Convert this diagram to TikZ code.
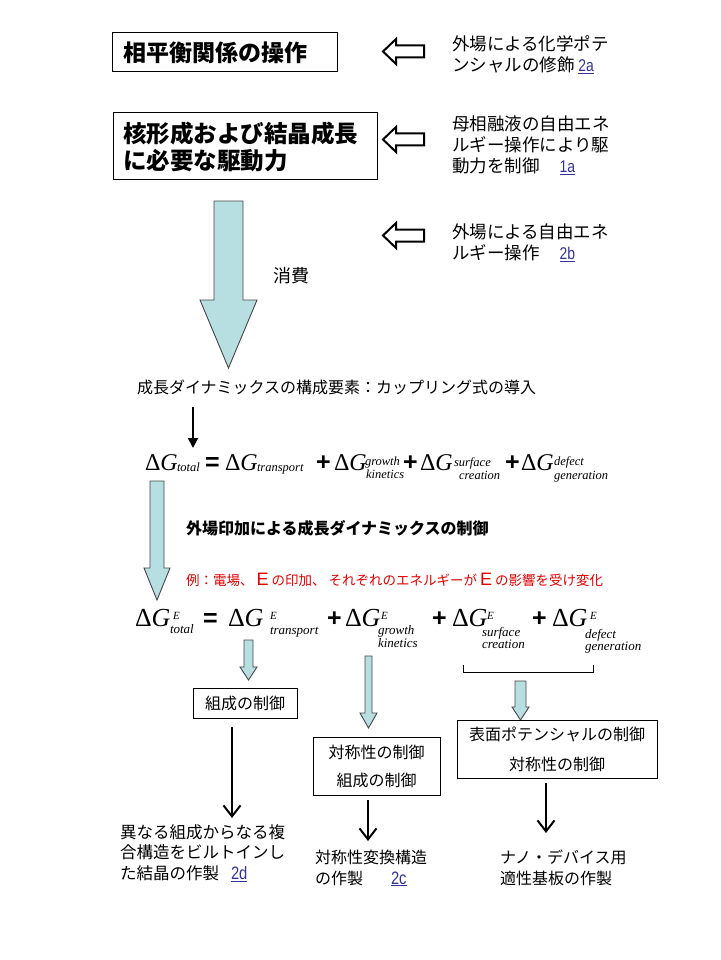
\documentclass[tikz,border=0pt]{standalone}
\usepackage{fontspec}
\usepackage{graphicx}
\setmainfont{Noto Sans CJK JP}
\newfontfamily\tms{Liberation Serif}
\newfontfamily\ari{Liberation Sans}
\usetikzlibrary{arrows.meta}
\definecolor{lblue}{RGB}{183,222,225}
\definecolor{aedge}{RGB}{70,70,70}
\definecolor{lnkcol}{RGB}{51,51,153}
\definecolor{redtxt}{RGB}{225,0,0}
\newcommand{\fs}[1]{\fontsize{#1}{#1}\selectfont}
\newcommand{\reflink}[2][17]{{\ari\fontsize{#1}{#1}\selectfont\color{lnkcol}\underline{\scalebox{0.82}[1]{#2}}}}
\newcommand{\bigE}{{\ari\fs{18}E}}
\newcommand{\dG}{Δ\textit{G}}
\begin{document}
\begin{tikzpicture}[x=1pt,y=-1pt,
  every node/.style={inner sep=0pt,outer sep=0pt},
  box/.style={draw,line width=1pt,align=left},
  cbox/.style={draw,line width=1pt,align=center,font=\fs{16}},
  rt/.style={anchor=base west,align=left,font=\fontsize{17.5}{21}\selectfont},
  lt/.style={anchor=base west,align=left,font=\fontsize{16.5}{20.5}\selectfont},
  dg/.style={anchor=base west,font=\tms\fs{24}},
  dgb/.style={anchor=base west,font=\tms\fs{26}},
  op/.style={anchor=base west,font=\ari\bfseries\fs{25}},
  sb/.style={anchor=base west,font=\tms\itshape\fs{12.5}},
  sbb/.style={anchor=base west,font=\tms\itshape\fs{13}},
  sup/.style={anchor=base west,font=\tms\itshape\fs{11}},
  hollow/.style={draw=black,fill=white,line width=2pt,line join=miter},
  blockarrow/.style={draw=aedge,fill=lblue,line width=0.9pt},
  blk/.style={line width=2pt,-{Straight Barb[length=11pt,width=17pt]}},
  blkt/.style={line width=2pt,-{Triangle[length=10pt,width=10pt]}}
]
\useasboundingbox (0,0) rectangle (720,960);
\fill[white] (0,0) rectangle (720,960);

% ---- top boxes ----
\node[box,font=\bfseries\fs{23},text width=203pt,inner xsep=11pt,minimum height=39pt,anchor=north west] (b1) at (112,33) {相平衡関係の操作};
\node[box,font=\bfseries\fontsize{23.5}{27}\selectfont,text width=244pt,inner xsep=10pt,minimum height=67pt,anchor=north west] (b2) at (113,113) {核形成および結晶成長\\に必要な駆動力};

% ---- hollow left arrows ----
\foreach \c in {51.5,139.5,235.5}{
  \draw[hollow] (383,\c) -- (396,\c-12.5) -- (396,\c-6) -- (424,\c-6) -- (424,\c+6) -- (396,\c+6) -- (396,\c+12.5) -- cycle;
}

% ---- right side texts (base = last line) ----
\node[rt] (t1) at (452,71.6) {外場による化学ポテ\\ンシャルの修飾 \reflink{2a}};
\node[rt] (t2) at (452,172.6) {母相融液の自由エネ\\ルギー操作により駆\\動力を制御\hspace{20pt}\reflink{1a}};
\node[rt] (t3) at (452,259.6) {外場による自由エネ\\ルギー操作\hspace{20pt}\reflink{2b}};

% ---- big arrow ----
\draw[blockarrow] (214,201) -- (243,201) -- (243,300) -- (257,300) -- (228.5,368) -- (200,300) -- (214,300) -- cycle;
\node[anchor=base west,font=\fs{18}] (cons) at (273,282) {消費};

\node[anchor=base west,font=\fs{16}] (dyn) at (137,393) {成長ダイナミックスの構成要素：カップリング式の導入};
\coordinate (k1s) at (193,407);
\coordinate (k1e) at (193,448);
\draw[blkt] (k1s) -- (k1e);

% ---- equation 1 ----
\node[dg] (e1g1) at (145,470) {\dG};
\node[sb] (e1s1) at (177,471) {total};
\node[op] (e1eq) at (205,470) {=};
\node[dg] (e1g2) at (225,470) {\dG};
\node[sb] (e1s2) at (257,471) {transport};
\node[op] (e1p1) at (316,470) {+};
\node[dg] (e1g3) at (334,470) {\dG};
\node[sb] (e1s3a) at (365,465.5) {growth};
\node[sb] (e1s3b) at (366,478.5) {kinetics};
\node[op] (e1p2) at (403,470) {+};
\node[dg] (e1g4) at (420,470) {\dG};
\node[sb] (e1s4a) at (454,466) {surface};
\node[sb] (e1s4b) at (459,479) {creation};
\node[op] (e1p3) at (505,470) {+};
\node[dg] (e1g5) at (521,470) {\dG};
\node[sb] (e1s5a) at (554,465) {defect};
\node[sb] (e1s5b) at (554,479) {generation};

% ---- left blue arrow ----
\draw[blockarrow] (150,481) -- (164,481) -- (164,568) -- (170,568) -- (157,600) -- (144,568) -- (150,568) -- cycle;

\node[anchor=base west,font=\bfseries\fs{16}] (ctl) at (186,534) {外場印加による成長ダイナミックスの制御};
\node[anchor=base west,font=\fs{13.5},text=redtxt] (ex) at (186,585) {例：電場、 \bigE\ の印加、 それぞれのエネルギーが \bigE\ の影響を受け変化};

% ---- equation 2 ----
\node[dgb] (e2g1) at (135,626) {\dG};
\node[sup] (e2e1) at (173,619) {E};
\node[sbb] (e2s1) at (170,633) {total};
\node[op] (e2eq) at (203,626) {=};
\node[dgb] (e2g2) at (228,626) {\dG};
\node[sup] (e2e2) at (270,619) {E};
\node[sbb] (e2s2) at (270,634) {transport};
\node[op] (e2p1) at (327,626) {+};
\node[dgb] (e2g3) at (345,626) {\dG};
\node[sup] (e2e3) at (381,619) {E};
\node[sbb] (e2s3a) at (378,634) {growth};
\node[sbb] (e2s3b) at (378,647) {kinetics};
\node[op] (e2p2) at (432,626) {+};
\node[dgb] (e2g4) at (452,626) {\dG};
\node[sup] (e2e4) at (487,619) {E};
\node[sbb] (e2s4a) at (482,636) {surface};
\node[sbb] (e2s4b) at (482,648) {creation};
\node[op] (e2p3) at (532,626) {+};
\node[dgb] (e2g5) at (552,626) {\dG};
\node[sup] (e2e5) at (590,619) {E};
\node[sbb] (e2s5a) at (585,638) {defect};
\node[sbb] (e2s5b) at (585,650) {generation};

% ---- bracket ----
\draw[line width=1pt] (463,665) -- (463,672) -- (593,672) -- (593,665);

% ---- small blue arrows ----
\draw[blockarrow] (244,640) -- (253,640) -- (253,667) -- (257,667) -- (248.5,680) -- (240,667) -- (244,667) -- cycle;
\draw[blockarrow] (365,656) -- (372,656) -- (372,713) -- (377,713) -- (368.5,728) -- (360,713) -- (365,713) -- cycle;
\draw[blockarrow] (515,681) -- (526,681) -- (526,707) -- (529,707) -- (520.5,720) -- (512,707) -- (515,707) -- cycle;

% ---- lower boxes ----
\node[cbox,minimum width=104pt,minimum height=30pt] (bA) at (245,703) {組成の制御};
\node[cbox,font=\fontsize{16}{28}\selectfont,minimum width=127pt,minimum height=58pt] (bB) at (376.5,766) {対称性の制御\\組成の制御};
\node[cbox,font=\fontsize{16}{30}\selectfont,minimum width=200pt,minimum height=58pt] (bC) at (557,749) {表面ポテンシャルの制御\\対称性の制御};

% ---- black arrows ----
\coordinate (a1s) at (232,727);
\coordinate (a1e) at (232,818);
\coordinate (a2s) at (368,800);
\coordinate (a2e) at (368,841);
\coordinate (a3s) at (546,783);
\coordinate (a3e) at (546,833);
\draw[blk] (a1s) -- (a1e);
\draw[blk] (a2s) -- (a2e);
\draw[blk] (a3s) -- (a3e);

% ---- bottom texts (base = last line) ----
\node[lt] (r1) at (120,879.3) {異なる組成からなる複\\合構造をビルトインし\\た結晶の作製\hspace{12pt}\reflink[18]{2d}};
\node[lt,font=\fontsize{16}{20.5}\selectfont] (r2) at (315,884) {対称性変換構造\\の作製\hspace{28pt}\reflink[18]{2c}};
\node[lt,font=\fontsize{16}{20.5}\selectfont] (r3) at (500,884) {ナノ・デバイス用\\適性基板の作製};
\end{tikzpicture}
\end{document}
